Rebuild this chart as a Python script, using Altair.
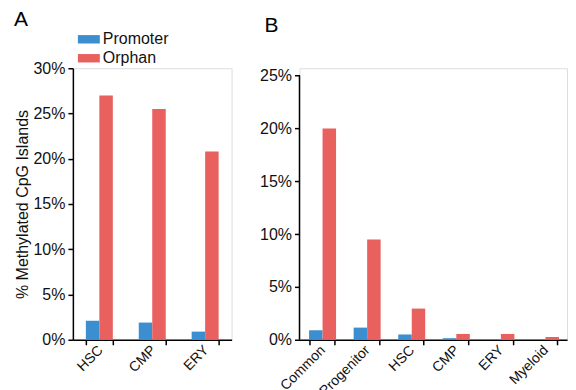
import altair as alt
import pandas as pd

series = ["Promoter", "Orphan"]
colors = ["#3B8ED0", "#E8615E"]

cats_a = ["HSC", "CMP", "ERY"]
promoter_a = [0.021, 0.019, 0.009]
orphan_a = [0.270, 0.255, 0.208]

cats_b = ["Common", "Progenitor", "HSC", "CMP", "ERY", "Myeloid"]
promoter_b = [0.009, 0.0115, 0.005, 0.0015, 0.0005, 0.0005]
orphan_b = [0.200, 0.095, 0.0295, 0.0055, 0.0055, 0.0025]

ticks_a = [0, 0.05, 0.10, 0.15, 0.20, 0.25, 0.30]
ticks_b = [0, 0.05, 0.10, 0.15, 0.20, 0.25]

FONT = "Liberation Sans"


def table(cats, prom, orph):
    rows = []
    for c, p, o in zip(cats, prom, orph):
        rows.append({"cat": c, "series": "Promoter", "value": p})
        rows.append({"cat": c, "series": "Orphan", "value": o})
    return pd.DataFrame(rows)


df_a = table(cats_a, promoter_a, orphan_a)
df_b = table(cats_b, promoter_b, orphan_b)

x_axis = dict(
    title=None, labelAngle=-45, labelAlign="right", labelBaseline="top",
    tickBand="extent", tickSize=5, tickWidth=1.5,
    domainColor="black", domainWidth=1.5, tickColor="black",
    labelFontSize=14, labelColor="#111", labelFont=FONT, labelPadding=-2, labelOffset=-4,
)

y_axis_common = dict(
    format=".0%", labelFontSize=16, labelFont=FONT, labelColor="#111",
    tickSize=5, tickWidth=1.5, tickColor="black", grid=False, labelPadding=3,
)

color_a = alt.Color(
    "series:N", scale=alt.Scale(domain=series, range=colors),
    legend=alt.Legend(
        title=None, orient="none", legendX=6, legendY=-39,
        symbolType="M-1.1,-0.42L1.1,-0.42L1.1,0.42L-1.1,0.42Z",
        symbolSize=400, symbolStrokeWidth=0, labelFontSize=16, labelFont=FONT,
        labelColor="#111", rowPadding=1, padding=0, labelOffset=4,
    ),
)

chart_a = alt.Chart(df_a).mark_bar().encode(
    x=alt.X("cat:N", sort=cats_a, scale=alt.Scale(paddingInner=0.49, paddingOuter=0.245), axis=alt.Axis(**x_axis)),
    xOffset=alt.XOffset("series:N", sort=series),
    y=alt.Y("value:Q", scale=alt.Scale(domain=[0, 0.30], nice=False),
            axis=alt.Axis(values=ticks_a, title="% Methylated CpG Islands",
                          titleFontSize=16, titleFont=FONT, titleFontWeight="normal",
                          titleColor="#111", titlePadding=2,
                          domainColor="black", domainWidth=1.5, **y_axis_common)),
    color=color_a,
).properties(
    width=159, height=272,
    title=alt.TitleParams("A", anchor="start", frame="group", dx=-59, dy=5,
                          fontSize=21, fontWeight="normal", font=FONT, color="black"),
)

bars_b = alt.Chart(df_b).mark_bar().encode(
    x=alt.X("cat:N", sort=cats_b, scale=alt.Scale(paddingInner=0.43, paddingOuter=0.215), axis=alt.Axis(**x_axis)),
    xOffset=alt.XOffset("series:N", sort=series),
    y=alt.Y("value:Q", scale=alt.Scale(domain=[0, 0.257], nice=False),
            axis=alt.Axis(values=ticks_b, title=None, domain=False, **y_axis_common)),
    color=alt.Color("series:N", scale=alt.Scale(domain=series, range=colors), legend=None),
)

axis_line_b = alt.Chart(pd.DataFrame({"v": [0]})).mark_rule(color="black", strokeWidth=1.5).encode(
    x=alt.value(0), y=alt.datum(0), y2=alt.datum(0.25)
)

chart_b = alt.layer(bars_b, axis_line_b).properties(
    width=268, height=272,
    title=alt.TitleParams("B", anchor="start", frame="group", dx=-35, dy=-28,
                          fontSize=21, fontWeight="normal", font=FONT, color="black"),
)

chart = alt.hconcat(chart_a, chart_b, spacing=68, bounds="flush").resolve_scale(
    color="independent"
).resolve_legend(color="independent").configure_view(stroke=None).configure(
    font=FONT
).properties(padding={"left": 5, "top": 0, "right": 0, "bottom": 0})

chart.save("out.html", embed_options={"renderer": "svg", "actions": False})
